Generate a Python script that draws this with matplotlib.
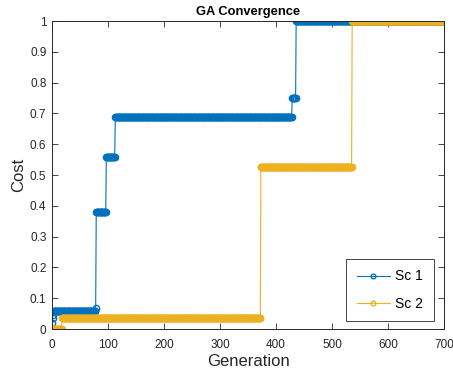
import numpy as np
import matplotlib
matplotlib.use("Agg")
import matplotlib.pyplot as plt
from matplotlib.ticker import FuncFormatter

plt.rcParams['font.family'] = ['Liberation Sans', 'DejaVu Sans']

# Best cost per generation, stored as step levels and the generation where each level starts
sc1_levels = [0.02, 0.035, 0.045, 0.06, 0.068, 0.38, 0.557, 0.687, 0.75, 1.0]
sc1_starts = [0, 1, 2, 3, 78, 79, 97, 113, 429, 436]
sc2_levels = [0.0, 0.035, 0.525, 1.0]
sc2_starts = [0, 18, 373, 536]
n_gen = 701

def expand(levels, starts, n):
    counts = np.diff(starts + [n])
    return np.repeat(levels, counts)

gens = np.arange(n_gen)
cost1 = expand(sc1_levels, sc1_starts, n_gen)
cost2 = expand(sc2_levels, sc2_starts, n_gen)

blue = '#0072BD'
yellow = '#EDB120'
axis_col = '#262626'

fig = plt.figure(figsize=(4.53, 3.74), dpi=100)
ax = fig.add_axes([52 / 453, 45 / 374, 392 / 453, 308 / 374])

ax.plot(gens, cost1, '-o', color=blue, lw=0.8, ms=4.5, mfc='none', mew=1.0, label='Sc 1')
ax.plot(gens, cost2, '-o', color=yellow, lw=0.8, ms=4.5, mfc='none', mew=1.0, label='Sc 2')

ax.set_xlim(0, 700)
ax.set_ylim(0, 1)
ax.set_xticks(np.arange(0, 701, 100))
ax.set_yticks(np.arange(0, 1.01, 0.1))
ax.yaxis.set_major_formatter(FuncFormatter(lambda v, p: f'{v:g}'))

ax.tick_params(direction='in', length=4, width=0.6, colors=axis_col,
               labelsize=8.5, top=True, right=True)
ax.tick_params(axis='x', pad=7)
ax.tick_params(axis='y', pad=4)
for s in ax.spines.values():
    s.set_color(axis_col)
    s.set_linewidth(0.7)

ax.set_title('GA Convergence', fontsize=9.3, fontweight='bold', pad=4)
ax.set_xlabel('Generation', fontsize=12, color=axis_col, labelpad=2)
ax.set_ylabel('Cost', fontsize=12, color=axis_col, labelpad=3)

leg = ax.legend(loc='lower right', bbox_to_anchor=(0.974, 0.026), borderaxespad=0,
                fontsize=10, fancybox=False, framealpha=1, edgecolor=axis_col,
                handlelength=2.4, borderpad=0.75, labelspacing=0.95, handletextpad=0.4,
                markerscale=0.75)
leg.get_frame().set_linewidth(0.6)

fig.savefig('out.png', dpi=100)
